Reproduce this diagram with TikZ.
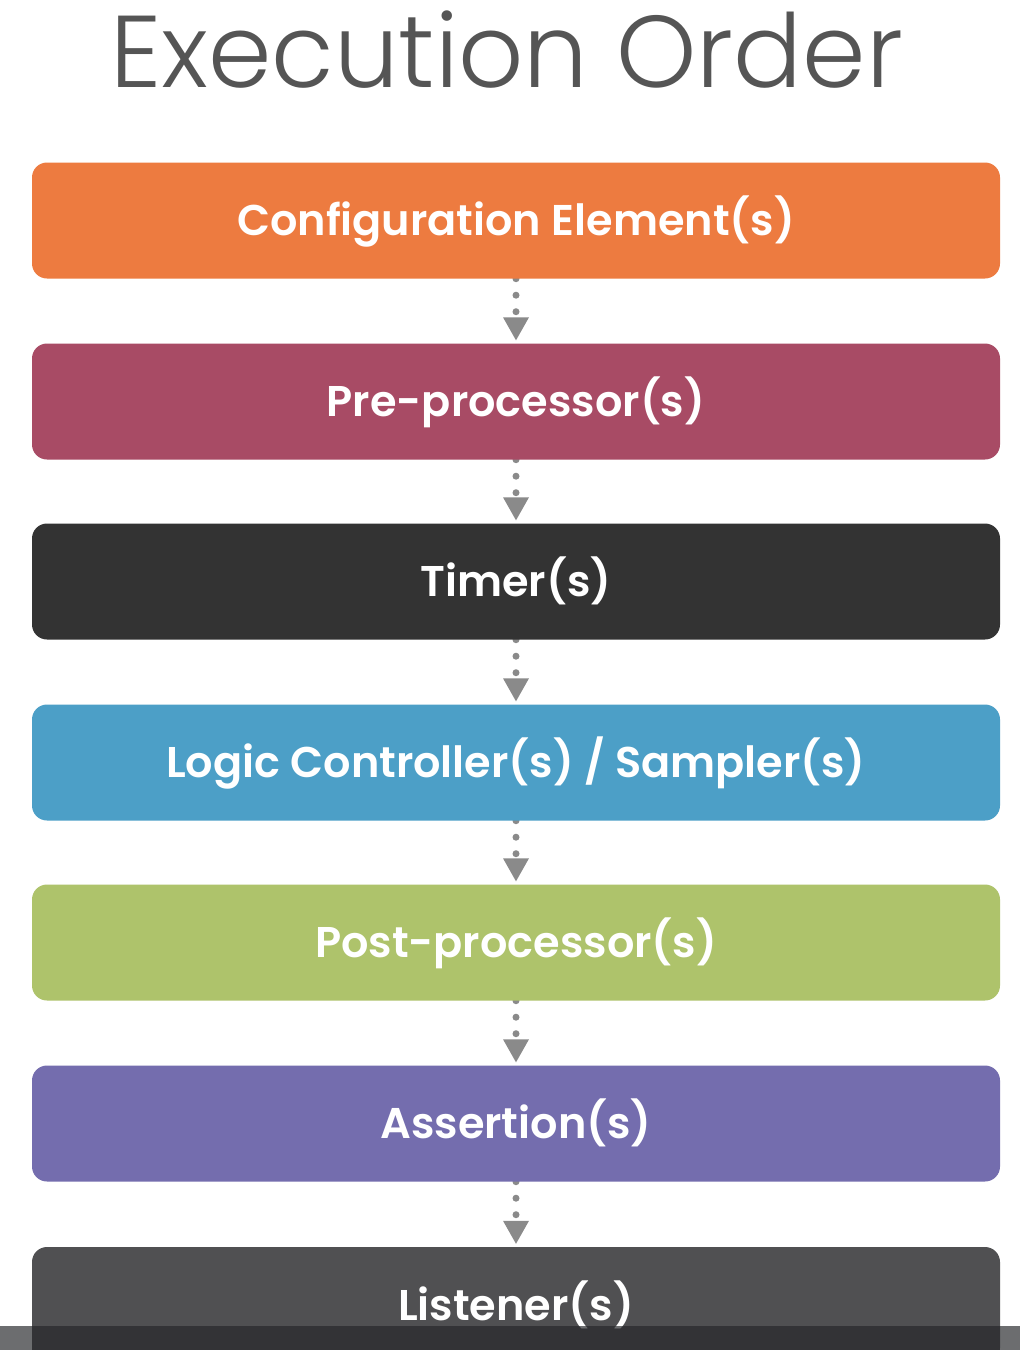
\documentclass[tikz,border=0pt]{standalone}
\usepackage{fontspec}
\usetikzlibrary{arrows.meta}
\newfontfamily\titlefont{Poppins Light}
\newfontfamily\boxfont{Poppins SemiBold}
\pgfdeclarelayer{bg}
\pgfsetlayers{bg,main}
\definecolor{cfg}{HTML}{ED7B40}
\definecolor{pre}{HTML}{A84B65}
\definecolor{tim}{HTML}{333333}
\definecolor{logic}{HTML}{4C9FC7}
\definecolor{post}{HTML}{AEC36B}
\definecolor{asrt}{HTML}{746DAE}
\definecolor{lst}{HTML}{505052}
\definecolor{arrowgray}{HTML}{8A8A8A}
\definecolor{titlegray}{HTML}{555555}
\definecolor{barcol}{RGB}{37,38,41}
\begin{document}
\begin{tikzpicture}[x=1pt,y=-1pt,
  stage/.style={rectangle, rounded corners=15pt, minimum width=968pt, minimum height=116pt,
    inner sep=0pt, draw=none, text=white, font=\boxfont\fontsize{43}{50}\selectfont,
    text height=30pt, text depth=0pt},
  flow/.style={draw=arrowgray, line width=7pt, line cap=round, dash pattern=on 0pt off 16.5pt,
    -{Triangle[length=23pt,width=26pt,line width=0pt]}, shorten >=3pt},
  ttl/.style={font=\titlefont\fontsize{102}{112}\selectfont, text=titlegray, anchor=base, inner sep=0pt}]
\useasboundingbox (0,0) rectangle (1020,1350);
\begin{pgfonlayer}{bg}
\fill[white] (0,0) rectangle (1020,1350);
\end{pgfonlayer}
\node[ttl] (title) at (506.5,87) {Execution Order};
\node[stage, fill=cfg]   (n1) at (516,220.5)  {Configuration Element(s)};
\node[stage, fill=pre]   (n2) at (516,401.5)  {Pre-processor(s)};
\node[stage, fill=tim]   (n3) at (516,581.5)  {Timer(s)};
\node[stage, fill=logic] (n4) at (516,762.5)  {Logic Controller(s) / Sampler(s)};
\node[stage, fill=post]  (n5) at (516,942.5)  {Post-processor(s)};
\node[stage, fill=asrt]  (n6) at (516,1123.5) {Assertion(s)};
\node[stage, fill=lst]   (n7) at (516,1305)   {Listener(s)};
\begin{pgfonlayer}{bg}
\draw[flow] (n1.south) -- (n2.north);
\draw[flow] (n2.south) -- (n3.north);
\draw[flow] (n3.south) -- (n4.north);
\draw[flow] (n4.south) -- (n5.north);
\draw[flow] (n5.south) -- (n6.north);
\draw[flow] (n6.south) -- (n7.north);
\end{pgfonlayer}
\fill[barcol, opacity=0.67] (0,1326) rectangle (1020,1350);
\end{tikzpicture}
\end{document}
